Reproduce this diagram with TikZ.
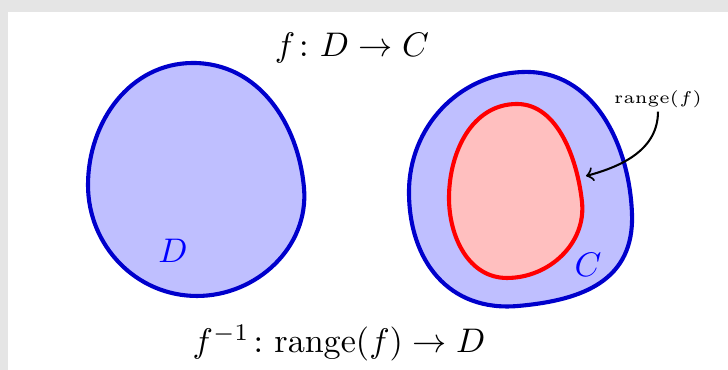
\documentclass[tikz,border=0pt]{standalone}
\usepackage{amsmath}
\usetikzlibrary{arrows, positioning}

\begin{document}
\begin{tikzpicture}[
    x=0.293pt, y=-0.293pt,
    setline/.style={
        line width=1.2pt,
        draw=blue!80!black,
        fill=blue!25
    },
    rangeline/.style={
        line width=1.2pt,
        draw=red,
        fill=red!25
    },
    setlabel/.style={
        text=blue,
        inner sep=0pt
    },
    arrow/.style={
        ->, semithick
    }
]

% frame
\fill[black!10] (0,0) rectangle (728,370);
\fill[white] (8,12) rectangle (728,370);
\useasboundingbox (0,0) rectangle (728,370);

% domain D
\draw[setline] (88,185) to[out=90, in=180] (193,63)
    to[out=0, in=95] (304,188)
    to[out=-85, in=0] (197,296)
    to[out=180, in=-90] cycle;

% codomain C and range(f)
\draw[setline] (409,192) to[out=90, in=182] (523,72)
    to[out=2, in=92] (632,214)
    to[out=-88, in=5, looseness=1.15] (518,306)
    to[out=185, in=-90, looseness=1.12] cycle;
\draw[rangeline] (449,198) to[out=90, in=180] (517,104)
    to[out=0, in=96, looseness=0.9] (582,202)
    to[out=-84, in=0] (507,278)
    to[out=180, in=-90] cycle;

\node (labD) [setlabel] at (173,251) {$D$};
\node (labC) [setlabel] at (588,265) {$C$};

\node (fmap) at (352,48) {$f\colon D \to C$};
\node (finv) at (339,343) {$f^{-1}\colon \mathrm{range}(f) \to D$};

\node (rangelab) [inner sep=1pt] at (658,99) {\fontsize{5.5}{6.5}\selectfont $\mathrm{range}(f)$};
\coordinate (rangetip) at (586,176);

\draw [arrow] (rangelab.south) to[out=-90, in=15] (rangetip);

\end{tikzpicture}
\end{document}
